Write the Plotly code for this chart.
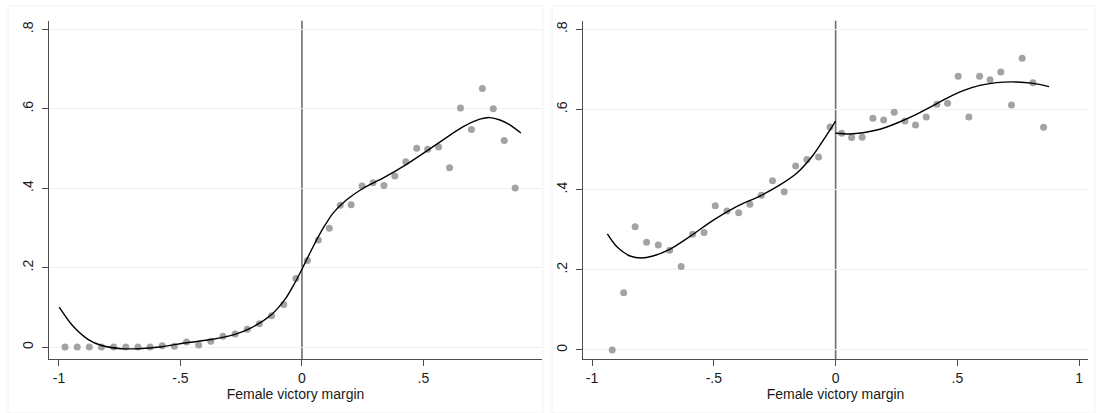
import plotly.graph_objects as go

# ---------------- data ----------------
# Left panel: binned means
left_bins_x = [-0.975, -0.925, -0.875, -0.825, -0.775, -0.725, -0.675, -0.625, -0.575, -0.525,
               -0.475, -0.425, -0.375, -0.325, -0.275, -0.225, -0.175, -0.125, -0.075, -0.025,
               0.0225, 0.0675, 0.1125, 0.1575, 0.2025, 0.2475, 0.2925, 0.3375, 0.3825, 0.4275,
               0.4725, 0.5175, 0.5625, 0.6075, 0.6525, 0.6975, 0.7425, 0.7875, 0.8325, 0.8775]
left_bins_y = [0.0, 0.0, 0.0, 0.0, 0.0, 0.0, 0.0, 0.0, 0.0035, 0.002,
               0.0126, 0.005, 0.015, 0.027, 0.033, 0.045, 0.059, 0.079, 0.107, 0.173,
               0.218, 0.270, 0.299, 0.357, 0.3585, 0.4055, 0.414, 0.407, 0.431, 0.467,
               0.501, 0.4985, 0.504, 0.4515, 0.602, 0.548, 0.651, 0.600, 0.520, 0.4005]

# Left panel: fitted curve, below and above the cutoff
left_fit_neg_x = [-0.999, -0.948, -0.879, -0.824, -0.742, -0.674, -0.577, -0.474, -0.372,
                  -0.276, -0.207, -0.125, -0.070, -0.029, 0.0]
left_fit_neg_y = [0.1005, 0.057, 0.019, 0.004, -0.004, -0.004, 0.001, 0.011, 0.019,
                  0.032, 0.049, 0.082, 0.120, 0.162, 0.196]
left_fit_pos_x = [0.0, 0.047, 0.088, 0.129, 0.184, 0.252, 0.335, 0.417, 0.499, 0.581,
                  0.664, 0.7325, 0.774, 0.815, 0.856, 0.901]
left_fit_pos_y = [0.196, 0.254, 0.300, 0.338, 0.371, 0.400, 0.426, 0.455, 0.488, 0.522,
                  0.555, 0.574, 0.578, 0.572, 0.5596, 0.539]

# Right panel: binned means
right_bins_x = [-0.917, -0.870, -0.823, -0.776, -0.728, -0.681, -0.634, -0.587, -0.540, -0.494,
                -0.446, -0.398, -0.352, -0.305, -0.259, -0.211, -0.164, -0.118, -0.070, -0.023,
                0.0246, 0.0657, 0.109, 0.153, 0.197, 0.2405, 0.2844, 0.328, 0.372, 0.4157,
                0.4596, 0.503, 0.547, 0.591, 0.634, 0.678, 0.722, 0.7657, 0.8096, 0.8535]
right_bins_y = [0.0, 0.143, 0.3077, 0.2686, 0.262, 0.2487, 0.208, 0.2886, 0.293, 0.360,
                0.347, 0.3426, 0.3635, 0.386, 0.4225, 0.395, 0.459, 0.475, 0.4815, 0.5564,
                0.5406, 0.5298, 0.531, 0.578, 0.5738, 0.593, 0.5713, 0.561, 0.581, 0.613,
                0.6155, 0.683, 0.581, 0.683, 0.6744, 0.6936, 0.611, 0.728, 0.667, 0.5556]

# Right panel: fitted curve, below and above the cutoff
right_fit_neg_x = [-0.937, -0.899, -0.844, -0.797, -0.750, -0.681, -0.599, -0.502, -0.407,
                   -0.311, -0.2286, -0.160, -0.0919, -0.037, 0.0]
right_fit_neg_y = [0.2894, 0.258, 0.2345, 0.2295, 0.2345, 0.251, 0.2827, 0.324, 0.3576,
                   0.384, 0.4117, 0.4408, 0.4865, 0.536, 0.571]
right_fit_pos_x = [0.0, 0.0587, 0.113, 0.182, 0.250, 0.3184, 0.387, 0.4555, 0.5236, 0.592,
                   0.6607, 0.7427, 0.811, 0.8765]
right_fit_pos_y = [0.5406, 0.5389, 0.542, 0.5506, 0.5656, 0.584, 0.6055, 0.628, 0.647, 0.660,
                   0.667, 0.6687, 0.665, 0.657]

y_ticks = [0, 0.2, 0.4, 0.6, 0.8]
y_tick_text = ["0", ".2", ".4", ".6", ".8"]
left_x_ticks = [-1, -0.5, 0, 0.5]
left_x_text = ["-1", "-.5", "0", ".5"]
right_x_ticks = [-1, -0.5, 0, 0.5, 1]
right_x_text = ["-1", "-.5", "0", ".5", "1"]
x_title = "Female victory margin"

# ---------------- figure ----------------
W, H = 1097, 413
FONT = "Liberation Sans, Arial, sans-serif"
DOT = "#A3A3A3"
AXIS = "#4D4D4D"
GRID = "#EAF2F3"
TXT = "#1a1a1a"

fig = go.Figure()

def add_panel(xa, ya, bx, by, nx, ny, px, py):
    fig.add_trace(go.Scatter(x=bx, y=by, mode="markers", xaxis=xa, yaxis=ya,
                             marker=dict(color=DOT, size=7, line=dict(width=0)),
                             showlegend=False, hoverinfo="x+y"))
    for cx, cy in ((nx, ny), (px, py)):
        fig.add_trace(go.Scatter(x=cx, y=cy, mode="lines", xaxis=xa, yaxis=ya,
                                 line=dict(color="black", width=1.4, shape="spline", smoothing=0.8),
                                 showlegend=False, hoverinfo="skip"))

add_panel("x", "y", left_bins_x, left_bins_y, left_fit_neg_x, left_fit_neg_y,
          left_fit_pos_x, left_fit_pos_y)
add_panel("x2", "y2", right_bins_x, right_bins_y, right_fit_neg_x, right_fit_neg_y,
          right_fit_pos_x, right_fit_pos_y)

ydom = [1 - 359 / H, 1 - 20.7 / H]

common_x = dict(showline=True, linecolor=AXIS, linewidth=1, ticks="outside", ticklen=6,
                tickcolor=AXIS, tickwidth=1, showgrid=False, zeroline=False,
                tickfont=dict(family=FONT, size=14, color=TXT),
                title=dict(text=x_title, font=dict(family=FONT, size=14, color=TXT),
                           standoff=0))
common_y = dict(showline=True, linecolor=AXIS, linewidth=1, ticks="outside", ticklen=6,
                tickcolor=AXIS, tickwidth=1, showgrid=True, gridcolor=GRID, gridwidth=1,
                zeroline=False, tickangle=-90, tickvals=y_ticks, ticktext=y_tick_text,
                ticklabelstandoff=3,
                tickfont=dict(family=FONT, size=14, color=TXT), domain=ydom)

fig.update_layout(
    width=W, height=H,
    margin=dict(l=0, r=0, t=0, b=0),
    paper_bgcolor="white", plot_bgcolor="white",
    xaxis=dict(common_x, domain=[49 / W, 542 / W], range=[-1.041, 0.988],
               tickvals=left_x_ticks, ticktext=left_x_text, anchor="y"),
    yaxis=dict(common_y, range=[-0.03, 0.822], anchor="x"),
    xaxis2=dict(common_x, domain=[583 / W, 1088 / W], range=[-1.037, 1.036],
                tickvals=right_x_ticks, ticktext=right_x_text, anchor="y2"),
    yaxis2=dict(common_y, range=[-0.0225, 0.8215], anchor="x2"),
)

# vertical cutoff lines at 0
for xr, yr in (("x", "y domain"), ("x2", "y2 domain")):
    fig.add_shape(type="line", xref=xr, yref=yr, x0=0, x1=0, y0=0, y1=1,
                  line=dict(color="#6E6E6E", width=1.6), layer="below")

# faint panel frames
for x0, x1 in ((8, 543), (552, 1095)):
    fig.add_shape(type="rect", xref="paper", yref="paper",
                  x0=x0 / W, x1=x1 / W, y0=0, y1=1 - 6 / H,
                  line=dict(color="#F2F2F2", width=1), layer="below")

fig.write_html("out.html")
